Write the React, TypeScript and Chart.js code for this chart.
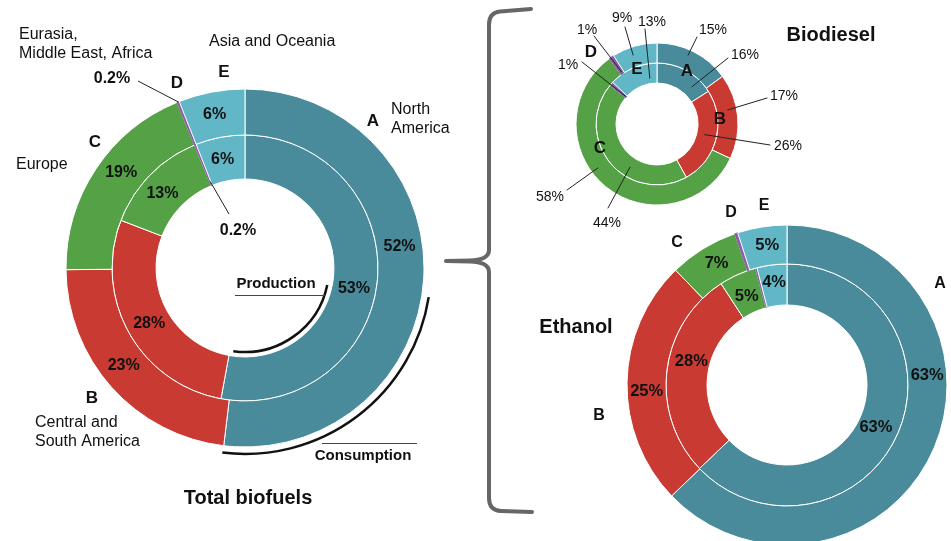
import React, { useEffect, useRef } from 'react';
import { Chart, registerables } from 'chart.js';

Chart.register(...registerables);

// ---------- data ----------
const regions = ['A', 'B', 'C', 'D', 'E'];
const regionNames = ['North America', 'Central and South America', 'Europe', 'Eurasia, Middle East, Africa', 'Asia and Oceania'];
const colors = ['#4a8b9b', '#c83a32', '#54a146', '#8a5ca6', '#62b7c7'];
const borderColors = ['#ffffff', '#ffffff', '#ffffff', '#8a5ca6', '#ffffff'];

const totalConsumption = [52, 23, 19, 0.2, 6];
const totalProduction = [53, 28, 13, 0.2, 6];
const biodieselConsumption = [15, 17, 58, 1, 9];
const biodieselProduction = [16, 26, 44, 1, 13];
const ethanolConsumption = [63, 25, 7, 0.3, 5];
const ethanolProduction = [63, 28, 5, 0.2, 4];

// ---------- layout / style ----------
const W = 951;
const H = 541;
const FONT = 'Helvetica, Arial, "Liberation Sans", sans-serif';
const B = (px: number) => `bold ${px}px ${FONT}`;
const R = (px: number) => `${px}px ${FONT}`;
const TXT = '#111';
const deg = (d: number) => (d * Math.PI) / 180;

type InLabel = { ds: number; i: number; f: number; rr?: number };
type Pointer = { ds: number; i: number; f: number; rr: number; tx: number; ty: number; lx: number; ly: number; font: string };
type Txt = { s: string; x: number; y: number; font: string; align?: CanvasTextAlign };
type Spec = { inLabels: InLabel[]; inFont: string; pointers: Pointer[]; texts: Txt[]; extra?: (ctx: CanvasRenderingContext2D, chart: any) => void };

function arcPoint(chart: any, ds: number, i: number, f: number, rr: number): [number, number] {
  const el = chart.getDatasetMeta(ds).data[i];
  const p = el.getProps(['x', 'y', 'startAngle', 'endAngle', 'innerRadius', 'outerRadius'], true);
  const a = p.startAngle + f * (p.endAngle - p.startAngle);
  const r = p.innerRadius + rr * (p.outerRadius - p.innerRadius);
  return [p.x + r * Math.cos(a), p.y + r * Math.sin(a)];
}

function drawText(ctx: CanvasRenderingContext2D, s: string, x: number, y: number, font: string, align: CanvasTextAlign = 'center') {
  ctx.font = font;
  ctx.fillStyle = TXT;
  ctx.textAlign = align;
  ctx.textBaseline = 'middle';
  ctx.fillText(s, x, y);
}

function pct(chart: any, ds: number, i: number) {
  return `${chart.data.datasets[ds].data[i]}%`;
}

function annotate(chart: any, spec: Spec) {
  const ctx: CanvasRenderingContext2D = chart.ctx;
  ctx.save();
  spec.extra && spec.extra(ctx, chart);
  for (const l of spec.inLabels) {
    const [x, y] = arcPoint(chart, l.ds, l.i, l.f, l.rr ?? 0.5);
    drawText(ctx, pct(chart, l.ds, l.i), x, y, spec.inFont);
  }
  for (const p of spec.pointers) {
    const [x, y] = arcPoint(chart, p.ds, p.i, p.f, p.rr);
    ctx.strokeStyle = '#222';
    ctx.lineWidth = 1;
    ctx.beginPath();
    ctx.moveTo(p.lx, p.ly);
    ctx.lineTo(x, y);
    ctx.stroke();
    drawText(ctx, pct(chart, p.ds, p.i), p.tx, p.ty, p.font);
  }
  for (const t of spec.texts) drawText(ctx, t.s, t.x, t.y, t.font, t.align ?? 'center');
  ctx.restore();
}

function makeRingChart(
  canvas: HTMLCanvasElement,
  cx: number,
  cy: number,
  radius: number,
  cutout: string,
  weights: [number, number],
  consumption: number[],
  production: number[],
  spec: Spec,
) {
  const a = Math.min(cx, W - cx);
  const b = Math.min(cy, H - cy);
  return new Chart(canvas, {
    type: 'doughnut',
    data: {
      labels: regions,
      datasets: [
        { label: 'Consumption', data: consumption, backgroundColor: colors, borderColor: borderColors, borderWidth: 1, weight: weights[0], clip: false } as any,
        { label: 'Production', data: production, backgroundColor: colors, borderColor: borderColors, borderWidth: 1, weight: weights[1], clip: false } as any,
      ],
    },
    options: {
      responsive: false,
      animation: false,
      events: [],
      radius,
      cutout,
      layout: { padding: { left: cx - a, right: W - cx - a, top: cy - b, bottom: H - cy - b } },
      plugins: { legend: { display: false }, tooltip: { enabled: false } },
    } as any,
    plugins: [{ id: 'annot', afterDraw: (chart: any) => annotate(chart, spec) }],
  });
}

// ---------- annotation specs ----------
const totalSpec: Spec = {
  inFont: B(16),
  inLabels: [
    { ds: 0, i: 0, f: 0.44 },
    { ds: 1, i: 0, f: 0.53 },
    { ds: 0, i: 1, f: 0.535 },
    { ds: 1, i: 1, f: 0.49 },
    { ds: 0, i: 2, f: 0.557 },
    { ds: 1, i: 2, f: 0.447 },
    { ds: 0, i: 4, f: 0.48 },
    { ds: 1, i: 4, f: 0.46 },
  ],
  pointers: [
    { ds: 0, i: 3, f: 0.5, rr: 1.0, tx: 112, ty: 79, lx: 138, ly: 81, font: B(16) },
    { ds: 1, i: 3, f: 0.5, rr: 0.1, tx: 238, ty: 231, lx: 229, ly: 214, font: B(16) },
  ],
  texts: [
    { s: 'Eurasia,', x: 19, y: 35, font: R(16), align: 'left' },
    { s: 'Middle East, Africa', x: 19, y: 54, font: R(16), align: 'left' },
    { s: regionNames[4], x: 209, y: 42, font: R(16), align: 'left' },
    { s: 'D', x: 177, y: 83, font: B(17) },
    { s: 'E', x: 224, y: 72, font: B(17) },
    { s: 'A', x: 373, y: 121, font: B(17) },
    { s: 'North', x: 391, y: 110, font: R(16), align: 'left' },
    { s: 'America', x: 391, y: 129, font: R(16), align: 'left' },
    { s: 'C', x: 95, y: 142, font: B(17) },
    { s: regionNames[2], x: 16, y: 165, font: R(16), align: 'left' },
    { s: 'B', x: 92, y: 398, font: B(17) },
    { s: 'Central and', x: 35, y: 423, font: R(16), align: 'left' },
    { s: 'South America', x: 35, y: 442, font: R(16), align: 'left' },
    { s: 'Production', x: 276, y: 284, font: B(15) },
    { s: 'Consumption', x: 363, y: 456, font: B(15) },
    { s: 'Total biofuels', x: 248, y: 498, font: B(20) },
  ],
  extra: (ctx, chart) => {
    const inner = chart.getDatasetMeta(1).data[0];
    const outer = chart.getDatasetMeta(0).data[0];
    ctx.strokeStyle = '#111';
    ctx.lineWidth = 2.5;
    ctx.beginPath();
    ctx.arc(inner.x, inner.y, inner.innerRadius - 5, deg(11.6), deg(98));
    ctx.stroke();
    ctx.beginPath();
    ctx.arc(outer.x, outer.y, outer.outerRadius + 7, deg(9), deg(97));
    ctx.stroke();
    ctx.strokeStyle = '#444';
    ctx.lineWidth = 1;
    ctx.beginPath();
    ctx.moveTo(235, 295.5);
    ctx.lineTo(325, 295.5);
    ctx.moveTo(322, 443.5);
    ctx.lineTo(417, 443.5);
    ctx.stroke();
  },
};

const biodieselSpec: Spec = {
  inFont: B(16),
  inLabels: [],
  pointers: [
    { ds: 0, i: 0, f: 0.45, rr: 0.73, tx: 713, ty: 30, lx: 697, ly: 37, font: R(14) },
    { ds: 1, i: 0, f: 0.75, rr: 0.5, tx: 745, ty: 55, lx: 728, ly: 58, font: R(14) },
    { ds: 0, i: 1, f: 0.405, rr: 0.55, tx: 784, ty: 96, lx: 767, ly: 98, font: R(14) },
    { ds: 1, i: 1, f: 0.48, rr: 0.4, tx: 788, ty: 146, lx: 770, ly: 145, font: R(14) },
    { ds: 0, i: 2, f: 0.566, rr: 0.63, tx: 550, ty: 197, lx: 567, ly: 190, font: R(14) },
    { ds: 1, i: 2, f: 0.384, rr: 0.49, tx: 607, ty: 223, lx: 608, ly: 208, font: R(14) },
    { ds: 0, i: 3, f: 0.5, rr: 0.1, tx: 587, ty: 30, lx: 594, ly: 36, font: R(14) },
    { ds: 1, i: 3, f: 0.5, rr: 0.05, tx: 568, ty: 65, lx: 582, ly: 62, font: R(14) },
    { ds: 0, i: 4, f: 0.41, rr: 0.6, tx: 622, ty: 18, lx: 625, ly: 27, font: R(14) },
    { ds: 1, i: 4, f: 0.81, rr: 0.27, tx: 652, ty: 22, lx: 645, ly: 29, font: R(14) },
  ],
  texts: [
    { s: 'Biodiesel', x: 831, y: 35, font: B(20) },
    { s: 'D', x: 591, y: 52, font: B(17) },
    { s: 'E', x: 637, y: 69, font: B(17) },
    { s: 'A', x: 687, y: 71, font: B(17) },
    { s: 'B', x: 720, y: 119, font: B(17) },
    { s: 'C', x: 600, y: 148, font: B(17) },
  ],
  extra: (ctx) => {
    // curly brace linking total to the two fuel breakdowns
    ctx.strokeStyle = '#666';
    ctx.lineWidth = 4;
    ctx.lineCap = 'round';
    ctx.lineJoin = 'round';
    ctx.beginPath();
    ctx.moveTo(531, 9);
    ctx.lineTo(500, 11.5);
    ctx.quadraticCurveTo(489, 12.5, 489, 25);
    ctx.lineTo(489, 250);
    ctx.quadraticCurveTo(489, 260, 470, 260.5);
    ctx.lineTo(446, 261);
    ctx.moveTo(446, 261);
    ctx.lineTo(470, 261.5);
    ctx.quadraticCurveTo(489, 262, 489, 272);
    ctx.lineTo(489, 498);
    ctx.quadraticCurveTo(489, 510.5, 501, 511);
    ctx.lineTo(532, 512);
    ctx.stroke();
  },
};

const ethanolSpec: Spec = {
  inFont: B(16.5),
  inLabels: [
    { ds: 0, i: 0, f: 0.38 },
    { ds: 1, i: 0, f: 0.51, rr: 0.45 },
    { ds: 0, i: 1, f: 0.46 },
    { ds: 1, i: 1, f: 0.57, rr: 0.45 },
    { ds: 0, i: 2, f: 0.56 },
    { ds: 1, i: 2, f: 0.48, rr: 0.42 },
    { ds: 0, i: 4, f: 0.55 },
    { ds: 1, i: 4, f: 0.5, rr: 0.57 },
  ],
  pointers: [],
  texts: [
    { s: 'Ethanol', x: 576, y: 327, font: B(20) },
    { s: 'A', x: 940, y: 284, font: B(16) },
    { s: 'B', x: 599, y: 416, font: B(16) },
    { s: 'C', x: 677, y: 243, font: B(16) },
    { s: 'D', x: 731, y: 213, font: B(16) },
    { s: 'E', x: 764, y: 206, font: B(16) },
  ],
};

export default function App() {
  const totalRef = useRef<HTMLCanvasElement>(null);
  const bioRef = useRef<HTMLCanvasElement>(null);
  const ethRef = useRef<HTMLCanvasElement>(null);

  useEffect(() => {
    const charts = [
      makeRingChart(totalRef.current!, 245, 268, 179, '49.7%', [46, 44], totalConsumption, totalProduction, totalSpec),
      makeRingChart(bioRef.current!, 657, 124, 81, '50.6%', [20, 20], biodieselConsumption, biodieselProduction, biodieselSpec),
      makeRingChart(ethRef.current!, 787, 385, 160, '50%', [39, 41], ethanolConsumption, ethanolProduction, ethanolSpec),
    ];
    return () => charts.forEach((c) => c.destroy());
  }, []);

  const cv: React.CSSProperties = { position: 'absolute', left: 0, top: 0, width: W, height: H };
  return (
    <div style={{ position: 'fixed', left: 0, top: 0, width: W, height: H, background: '#ffffff', overflow: 'hidden' }}>
      <canvas ref={totalRef} width={W} height={H} style={cv} />
      <canvas ref={bioRef} width={W} height={H} style={cv} />
      <canvas ref={ethRef} width={W} height={H} style={cv} />
    </div>
  );
}
